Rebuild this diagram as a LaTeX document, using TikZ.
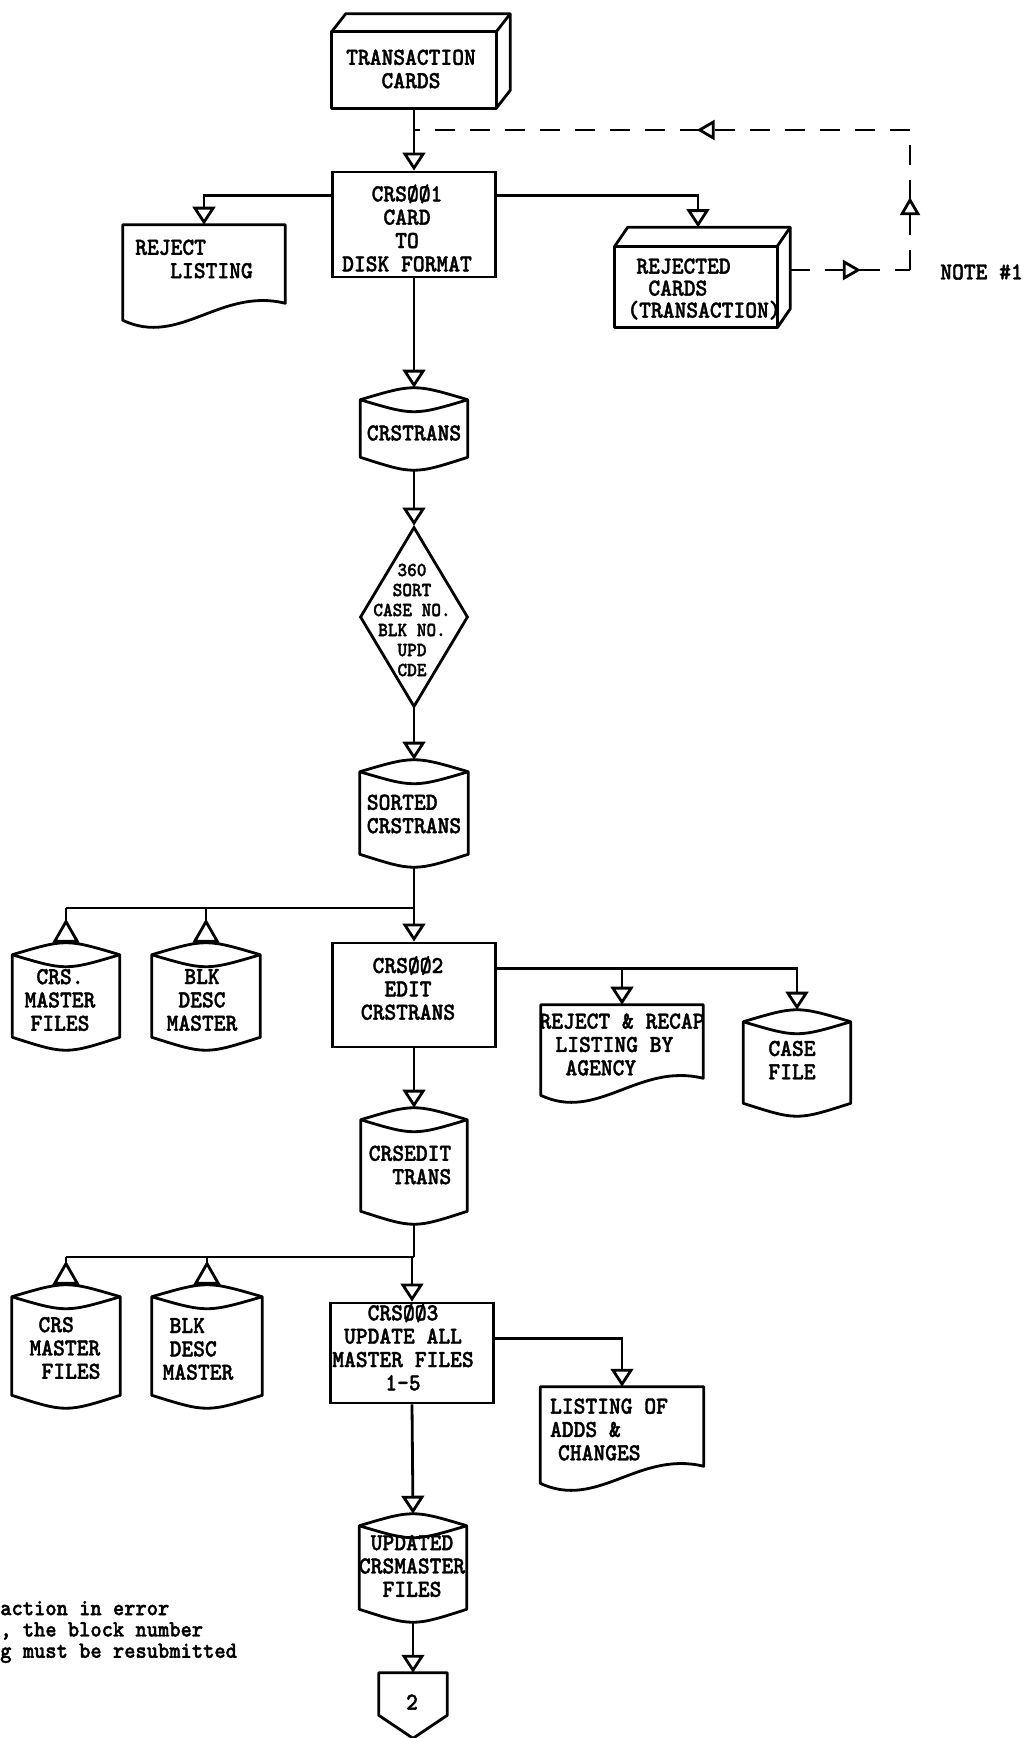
\documentclass[tikz,border=0pt]{standalone}
\usepackage{fontspec}
\usetikzlibrary{arrows.meta,calc,shapes.geometric,decorations.markings}
\newfontfamily\tw{lmmonolt10-bold.otf}[FakeStretch=0.92,FakeBold=1.5]
\newcommand\drawcyl[1]{%
 \draw[shp] ($(#1.north west)+(0,12)$) .. controls ($(#1.north)+(0,-4)$) .. ($(#1.north east)+(0,12)$) -- ($(#1.south east)+(0,-13)$) .. controls ($(#1.south)+(0,4.3)$) .. ($(#1.south west)+(0,-13)$) -- cycle;
 \draw[shp] ($(#1.north west)+(0,12)$) .. controls ($(#1.north)+(0,28)$) .. ($(#1.north east)+(0,12)$);
}
\newcommand\drawdoc[1]{%
 \draw[shp] (#1.north west) -- (#1.north east) -- ($(#1.south east)+(0,-24)$) .. controls ($(#1.south west)!0.6!(#1.south east)+(0,-40)$) and ($(#1.south west)!0.35!(#1.south east)+(0,20)$) .. ($(#1.south west)+(0,-7)$) -- cycle;
}
\newcommand\drawdeck[3]{%
 \draw[shp] (#1.north west) rectangle (#1.south east);
 \draw[shp] (#1.north west) -- ++(#2,#3) -- ($(#1.north east)+(#2,#3)$) -- ($(#1.south east)+(#2,#3)$) -- (#1.south east);
 \draw[shp] (#1.north east) -- ++(#2,#3);
}
\tikzset{
 conn/.style={line width=2.1pt, draw=black},
 shp/.style={line width=2.1pt, draw=black, line join=round},
 dtip/.style={-{Triangle[length=13.5pt,width=17pt,fill=white]}},
 utip/.style={-{Triangle[reversed,length=18pt,width=20pt,fill=white]}},
 ghost/.style={rectangle, inner sep=0pt},
 sz/.style 2 args={minimum width=#1*0.75pt, minimum height=#2*0.75pt},
 txt/.style={font=\tw\fontsize{18.3pt}{17.5pt}\selectfont, inner sep=0pt, align=center},
 fb/.style={line width=2.1pt, dash pattern=on 15pt off 11.25pt},
 fbmark/.style={postaction={decorate, decoration={markings, mark=at position #1 with {\arrow{Triangle[length=13.5pt,width=15pt,fill=white]}}}}}
}
\begin{document}
\begin{tikzpicture}[x=0.75pt,y=-0.75pt]
\fill[white] (0,0) rectangle (1025,1738);
\useasboundingbox (0,0) rectangle (1025,1738);

% shapes
\node[ghost, sz={164}{76}] (tc) at (414,70) {};
\drawdeck{tc}{14}{-18}
\node[ghost, draw, line width=2.1pt, sz={163}{105}] (p1) at (414,224.5) {};
\node[ghost, sz={162}{102}] (rl) at (204,276) {};
\drawdoc{rl}
\node[ghost, sz={162}{81}] (rc) at (696,287) {};
\drawdeck{rc}{13}{-19}
\node[ghost, sz={107}{82}] (c1) at (414,429) {};
\drawcyl{c1}
\node[diamond, draw, line width=2.1pt, inner sep=0pt, sz={108}{180}] (d1) at (414,617) {};
\node[ghost, sz={108}{107}] (c2) at (414,813.5) {};
\drawcyl{c2}
\node[ghost, sz={107}{107}] (m1) at (66,996.5) {};
\drawcyl{m1}
\node[ghost, sz={108}{107}] (b1) at (206,996.5) {};
\drawcyl{b1}
\node[ghost, draw, line width=2.1pt, sz={163}{104}] (p2) at (414,995) {};
\node[ghost, sz={162}{97}] (rr) at (622,1053.5) {};
\drawdoc{rr}
\node[ghost, sz={107}{106}] (cf) at (797,1063) {};
\drawcyl{cf}
\node[ghost, sz={106}{116}] (c3) at (414,1166) {};
\drawcyl{c3}
\node[ghost, sz={108}{123}] (m2) at (66,1346.5) {};
\drawcyl{m2}
\node[ghost, sz={110}{123}] (b2) at (207,1346.5) {};
\drawcyl{b2}
\node[ghost, draw, line width=2.1pt, sz={163}{100}] (p3) at (412,1353) {};
\node[ghost, sz={163}{103}] (la) at (622,1438.5) {};
\drawdoc{la}
\node[ghost, sz={107}{108}] (c4) at (413,1568) {};
\drawcyl{c4}
\node[ghost, sz={68}{65}] (pg) at (413,1705.5) {};
\draw[shp] (pg.north west) -- (pg.north east) -- ($(pg.south east)+(0,-23)$) -- (pg.south) -- ($(pg.south west)+(0,-23)$) -- cycle;

% texts
\node[txt] (t-tc) at (411,69) {TRANSACTION\\CARDS};
\node[txt] (t-p1) at (407,228) {CRSØØ1\\CARD\\TO\\DISK FORMAT};
\node[txt, align=left] (t-rl) at (194,259) {REJECT\\\hspace*{26.25pt}LISTING};
\node[txt, align=left, font=\tw\fontsize{18.3pt}{16.5pt}\selectfont] (t-rc) at (704,289) {\hspace*{6.75pt}REJECTED\\\hspace*{15.75pt}CARDS\\(TRANSACTION)};
\node[txt, anchor=west] (note) at (940,272) {NOTE \#1};
\node[txt] (t-c1) at (414,433) {CRSTRANS};
\node[txt, font=\tw\fontsize{15pt}{15pt}\selectfont] (t-d1) at (412,620) {360\\SORT\\CASE NO.\\BLK NO.\\UPD\\CDE};
\node[txt, align=left] (t-c2) at (414,814) {SORTED\\CRSTRANS};
\node[txt] (t-m1) at (60,1000) {CRS.\\MASTER\\FILES};
\node[txt] (t-b1) at (202,1000) {BLK\\DESC\\MASTER};
\node[txt] (t-p2) at (408,988) {CRSØØ2\\EDIT\\CRSTRANS};
\node[txt, align=left] (t-rr) at (622,1044.5) {REJECT \& RECAP\\\hspace*{12pt}LISTING BY\\\hspace*{19.5pt}AGENCY};
\node[txt] (t-cf) at (792,1060) {CASE\\FILE};
\node[txt, align=right] (t-c3) at (410,1165) {CRSEDIT\\TRANS};
\node[txt, align=left] (t-m2) at (65,1348) {\hspace*{6.75pt}CRS\\MASTER\\\hspace*{9pt}FILES};
\node[txt, align=left] (t-b2) at (198,1349) {\hspace*{5.25pt}BLK\\\hspace*{5.25pt}DESC\\MASTER};
\node[txt] (t-p3) at (403,1347) {CRSØØ3\\UPDATE ALL\\MASTER FILES\\1-5};
\node[txt, align=left] (t-la) at (609,1429.5) {LISTING OF\\ADDS \&\\\hspace*{6pt}CHANGES};
\node[txt] (t-c4) at (412,1566) {UPDATED\\CRSMASTER\\FILES};
\node[txt] (t-pg) at (412,1702) {2};
\node[txt, align=left, anchor=west, font=\tw\fontsize{17.5pt}{16pt}\selectfont] (t-fn) at (0,1632) {action in error\\, the block number\\g must be resubmitted};

% connectors
\draw[conn,dtip] (tc.south) -- (p1.north);
\coordinate (p1l) at ($(p1.north west)+(0,25)$);
\coordinate (p1r) at ($(p1.north east)+(0,25)$);
\draw[conn,dtip] (p1l) -| (rl.north);
\draw[conn,dtip] (p1r) -| ($(rc.north)+(2,-19)$);
\draw[conn,dtip] (p1.south) -- (c1.north);
\draw[conn,dtip] (c1.south) -- (d1.north);
\draw[conn,dtip] (d1.south) -- (c2.north);
\coordinate (bus1) at (414,908);
\draw[conn] (c2.south) -- (bus1);
\draw[conn] (bus1) -- (bus1 -| m1.north);
\draw[conn,utip] (bus1 -| m1.north) -- (m1.north);
\draw[conn,utip] (bus1 -| b1.north) -- (b1.north);
\draw[conn,dtip] (bus1) -- (p2.north);
\coordinate (p2r) at ($(p2.north east)+(0,27)$);
\draw[conn,dtip] (p2r) -| (rr.north);
\draw[conn,dtip] (p2r) -| (cf.north);
\draw[conn,dtip] (p2.south) -- (c3.north);
\coordinate (bus2) at (414,1257);
\draw[conn] (c3.south) -- (bus2);
\draw[conn] (bus2) -- (bus2 -| m2.north);
\draw[conn,utip] (bus2 -| m2.north) -- (m2.north);
\draw[conn,utip] (bus2 -| b2.north) -- (b2.north);
\draw[conn,dtip] (bus2 -| p3.north) -- (p3.north);
\coordinate (p3r) at ($(p3.north east)+(0,37)$);
\draw[conn,dtip] (p3r) -| (la.north);
\draw[conn,dtip] (p3.south) -- (c4.north);
\draw[conn,dtip] (c4.south) -- (pg.north);

% feedback (dashed)
\coordinate (rcr) at ($(rc.east)+(13,-17)$);
\coordinate (n1) at (910,270);
\coordinate (n2) at (910,130);
\coordinate (fbj) at (414,130);
\draw[fb, fbmark=0.59] (rcr) -- (n1);
\draw[fb, fbmark=0.52] (n1) -- (n2);
\draw[fb, fbmark=0.43] (n2) -- (fbj);
\end{tikzpicture}
\end{document}
